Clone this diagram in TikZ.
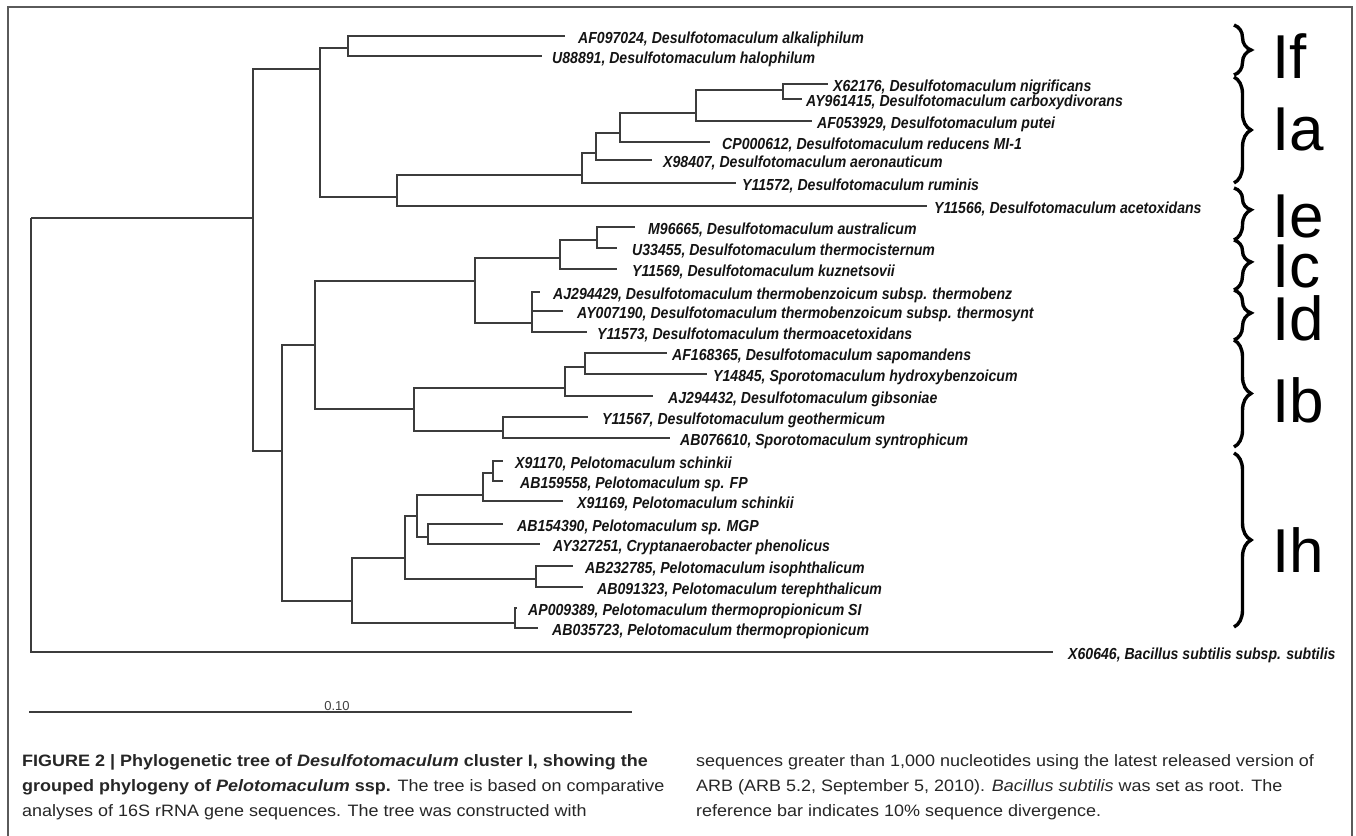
\documentclass[tikz,border=0pt]{standalone}
\usepackage{fontspec}
\setmainfont{Liberation Sans}
\newfontfamily\leaffont[FakeStretch=0.88]{Liberation Sans}
\newfontfamily\capfont[FakeStretch=1.09]{Liberation Sans}
\usetikzlibrary{decorations.pathreplacing}
\definecolor{treegray}{HTML}{3C3C3C}
\definecolor{framegray}{HTML}{5A5A5A}
\definecolor{captext}{HTML}{262626}
\tikzset{
  br/.style={draw=treegray, line width=1.5pt},
  lab/.style={anchor=west, inner sep=0pt, text=black!92,
    font=\leaffont\bfseries\itshape\fontsize{16}{16}\selectfont},
  clade/.style={anchor=base west, inner sep=0pt, text height=45pt, text depth=0pt,
    font=\fontsize{62}{62}\selectfont},
  bracestyle/.style={decorate, decoration={brace, amplitude=17pt}, line width=3.4pt},
  captxt/.style={anchor=base west, inner sep=0pt, text=captext,
    font=\capfont\fontsize{16.5}{16.5}\selectfont},
  framestyle/.style={draw=framegray, line width=1.5pt},
}
\begin{document}
\begin{tikzpicture}[x=1pt,y=-1pt]
\useasboundingbox (0,0) rectangle (1356,835);
% frame
\draw[framestyle] (8,836) -- (8,7) -- (1352,7) -- (1352,836);

% internal nodes
\coordinate (root) at (31,218);
\coordinate (nA) at (253,218);
\coordinate (nB) at (320,69);
\coordinate (nIf) at (348,48);
\coordinate (nD) at (397,197);
\coordinate (nIa) at (582,175);
\coordinate (nE) at (596,153);
\coordinate (nF) at (620,133);
\coordinate (nG) at (696,113);
\coordinate (nH) at (783,90);
\coordinate (nC) at (282,451);
\coordinate (nJ) at (315,345);
\coordinate (nL) at (475,281);
\coordinate (nN) at (560,258);
\coordinate (nP) at (597,240);
\coordinate (nO) at (532,323);
\coordinate (nM) at (414,409);
\coordinate (nQ) at (565,388);
\coordinate (nS) at (585,367);
\coordinate (nR) at (503,431);
\coordinate (nK) at (352,601);
\coordinate (nT) at (405,558);
\coordinate (nV) at (417,516);
\coordinate (nX) at (483,495);
\coordinate (nZ) at (493,473);
\coordinate (nY) at (428,537);
\coordinate (nW) at (536,579);
\coordinate (nU) at (515,623);

% leaves: line ends and labels
\coordinate (e1) at (565,36);  \node[lab] (t1) at (578,39) {AF097024, Desulfotomaculum alkaliphilum};
\coordinate (e2) at (542,56);  \node[lab] (t2) at (552,59) {U88891, Desulfotomaculum halophilum};
\coordinate (e3) at (828,84);  \node[lab] (t3) at (833,87) {X62176, Desulfotomaculum nigrificans};
\coordinate (e4) at (802,99);  \node[lab] (t4) at (806,102) {AY961415, Desulfotomaculum carboxydivorans};
\coordinate (e5) at (812,121); \node[lab] (t5) at (817,124) {AF053929, Desulfotomaculum putei};
\coordinate (e6) at (710,142); \node[lab] (t6) at (722,145) {CP000612, Desulfotomaculum reducens MI-1};
\coordinate (e7) at (652,160); \node[lab] (t7) at (663,163) {X98407, Desulfotomaculum aeronauticum};
\coordinate (e8) at (736,183); \node[lab] (t8) at (742,186) {Y11572, Desulfotomaculum ruminis};
\coordinate (e9) at (927,206); \node[lab] (t9) at (934,209) {Y11566, Desulfotomaculum acetoxidans};
\coordinate (e10) at (635,227); \node[lab] (t10) at (648,230) {M96665, Desulfotomaculum australicum};
\coordinate (e11) at (617,248); \node[lab] (t11) at (632,251) {U33455, Desulfotomaculum thermocisternum};
\coordinate (e12) at (617,269); \node[lab] (t12) at (632,272) {Y11569, Desulfotomaculum kuznetsovii};
\coordinate (e13) at (540,292); \node[lab] (t13) at (553,295) {AJ294429, Desulfotomaculum thermobenzoicum subsp. thermobenz};
\coordinate (e14) at (563,311); \node[lab] (t14) at (577,314) {AY007190, Desulfotomaculum thermobenzoicum subsp. thermosynt};
\coordinate (e15) at (587,332); \node[lab] (t15) at (597,335) {Y11573, Desulfotomaculum thermoacetoxidans};
\coordinate (e16) at (667,353); \node[lab] (t16) at (672,356) {AF168365, Desulfotomaculum sapomandens};
\coordinate (e17) at (707,374); \node[lab] (t17) at (713,377) {Y14845, Sporotomaculum hydroxybenzoicum};
\coordinate (e18) at (653,396); \node[lab] (t18) at (668,399) {AJ294432, Desulfotomaculum gibsoniae};
\coordinate (e19) at (588,417); \node[lab] (t19) at (602,420) {Y11567, Desulfotomaculum geothermicum};
\coordinate (e20) at (670,438); \node[lab] (t20) at (680,441) {AB076610, Sporotomaculum syntrophicum};
\coordinate (e21) at (503,461); \node[lab] (t21) at (515,464) {X91170, Pelotomaculum schinkii};
\coordinate (e22) at (503,481); \node[lab] (t22) at (520,484) {AB159558, Pelotomaculum sp. FP};
\coordinate (e23) at (563,501); \node[lab] (t23) at (577,504) {X91169, Pelotomaculum schinkii};
\coordinate (e24) at (503,524); \node[lab] (t24) at (517,527) {AB154390, Pelotomaculum sp. MGP};
\coordinate (e25) at (540,544); \node[lab] (t25) at (553,547) {AY327251, Cryptanaerobacter phenolicus};
\coordinate (e26) at (573,566); \node[lab] (t26) at (585,569) {AB232785, Pelotomaculum isophthalicum};
\coordinate (e27) at (583,587); \node[lab] (t27) at (597,590) {AB091323, Pelotomaculum terephthalicum};
\coordinate (e28) at (517,608); \node[lab] (t28) at (528,611) {AP009389, Pelotomaculum thermopropionicum SI};
\coordinate (e29) at (538,628); \node[lab] (t29) at (552,631) {AB035723, Pelotomaculum thermopropionicum};
\coordinate (e30) at (1053,652); \node[lab] (t30) at (1068,655) {X60646, Bacillus subtilis subsp. subtilis};

% branches
\foreach \p/\c in {root/nA, root/e30, nA/nB, nA/nC, nB/nIf, nB/nD, nIf/e1, nIf/e2,
  nD/nIa, nD/e9, nIa/nE, nIa/e8, nE/nF, nE/e7, nF/nG, nF/e6, nG/nH, nG/e5, nH/e3, nH/e4,
  nC/nJ, nC/nK, nJ/nL, nJ/nM, nL/nN, nL/nO, nN/nP, nN/e12, nP/e10, nP/e11,
  nO/e13, nO/e14, nO/e15, nM/nQ, nM/nR, nQ/nS, nQ/e18, nS/e16, nS/e17, nR/e19, nR/e20,
  nK/nT, nK/nU, nT/nV, nT/nW, nV/nX, nV/nY, nX/nZ, nX/e23, nZ/e21, nZ/e22,
  nY/e24, nY/e25, nW/e26, nW/e27, nU/e28, nU/e29}
  \draw[br] (\p) |- (\c);

% clade braces and labels
\draw[bracestyle] (1234,25) -- (1234,75);
\draw[bracestyle] (1234,77) -- (1234,183);
\draw[bracestyle, decoration={aspect=0.42}] (1234,188) -- (1234,240);
\draw[bracestyle, decoration={aspect=0.44}] (1234,240) -- (1234,290);
\draw[bracestyle, decoration={aspect=0.46}] (1234,290) -- (1234,340);
\draw[bracestyle] (1234,340) -- (1234,447);
\draw[bracestyle] (1234,453) -- (1234,627);
\node[clade] (cIf) at (1272,78) {If};
\node[clade] (cIa) at (1272,150) {Ia};
\node[clade] (cIe) at (1272,237) {Ie};
\node[clade] (cIc) at (1272,287) {Ic};
\node[clade] (cId) at (1272,340) {Id};
\node[clade] (cIb) at (1272,422) {Ib};
\node[clade] (cIh) at (1272,572) {Ih};

% scale bar
\coordinate (sb1) at (29,712);
\coordinate (sb2) at (632,712);
\draw[draw=treegray, line width=1.5pt] (sb1) -- (sb2);
\node[anchor=base, inner sep=0pt, text=black!75, font=\fontsize{13}{13}\selectfont] (sbl) at (337,710) {0.10};

% caption
\node[captxt] (c1) at (22,766) {\bfseries FIGURE 2 | Phylogenetic tree of \textit{Desulfotomaculum} cluster I, showing the};
\node[captxt] (c2) at (22,791) {\textbf{grouped phylogeny of \textit{Pelotomaculum} ssp.} The tree is based on comparative};
\node[captxt] (c3) at (22,816) {analyses of 16S rRNA gene sequences. The tree was constructed with};
\node[captxt] (c4) at (696,766) {sequences greater than 1,000 nucleotides using the latest released version of};
\node[captxt] (c5) at (696,791) {ARB (ARB 5.2, September 5, 2010). \textit{Bacillus subtilis} was set as root. The};
\node[captxt] (c6) at (696,816) {reference bar indicates 10\% sequence divergence.};
\end{tikzpicture}
\end{document}
